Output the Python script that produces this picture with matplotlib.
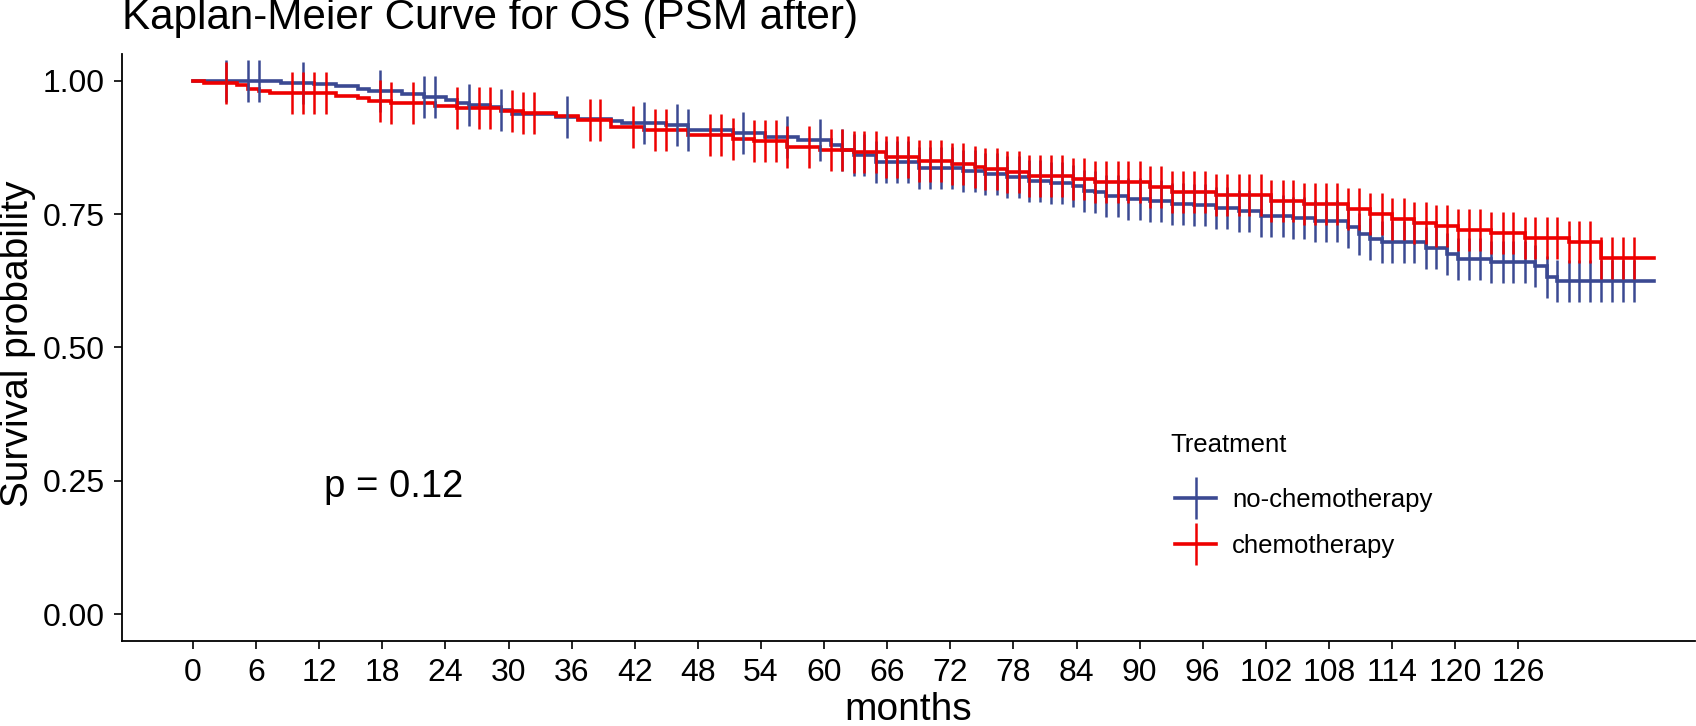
import numpy as np
import matplotlib
matplotlib.use('Agg')
import matplotlib.pyplot as plt
from matplotlib.lines import Line2D

plt.rcParams['font.family'] = ['Liberation Sans', 'DejaVu Sans']

# ---------------- data ----------------
group_labels = ['no-chemotherapy', 'chemotherapy']
group_colors = ['#3B4992', '#EE0000']

nochemo_times = [0, 8.4, 11.5, 13.6, 15.7, 16.7, 19.9, 22.0, 24.1, 25.1, 26.2, 28.2, 29.3,
                 30.3, 34.5, 36.6, 39.7, 40.8, 45.0, 47.1, 51.3, 54.4, 57.5, 60.7, 61.7,
                 62.8, 64.9, 69.0, 73.2, 75.3, 77.4, 79.5, 81.6, 83.7, 84.7, 85.8, 86.8,
                 88.9, 91.0, 93.1, 95.2, 97.3, 99.4, 101.5, 104.6, 106.7, 109.8, 110.9,
                 111.9, 113.0, 117.2, 119.2, 120.3, 123.4, 127.6, 128.7, 129.7]
nochemo_surv = [1.0, 0.9955, 0.9937, 0.9894, 0.9844, 0.9813, 0.975, 0.970, 0.964, 0.958,
                0.9545, 0.950, 0.9457, 0.938, 0.931, 0.928, 0.924, 0.920, 0.916, 0.9076,
                0.901, 0.895, 0.888, 0.880, 0.870, 0.860, 0.848, 0.8365, 0.830, 0.825,
                0.819, 0.8127, 0.8077, 0.8034, 0.794, 0.791, 0.7846, 0.778, 0.774, 0.769,
                0.766, 0.7615, 0.755, 0.747, 0.743, 0.7365, 0.725, 0.713, 0.7035, 0.697,
                0.686, 0.6755, 0.666, 0.660, 0.6517, 0.632, 0.624]

late_censor = [61.7, 62.8, 63.8, 64.9, 65.9, 66.9, 68.0, 69.0, 70.1, 71.1, 72.2, 73.2,
               74.3, 75.3, 76.4, 77.4, 78.5, 79.5, 80.5, 81.6, 82.6, 83.7, 84.7, 85.8,
               86.8, 87.9, 88.9, 90.0, 91.0, 92.0, 93.1, 94.1, 95.2, 96.2, 97.3, 98.3,
               99.4, 100.4, 101.5, 102.5, 103.6, 104.6, 105.6, 106.7, 107.7, 108.8, 109.8,
               110.9, 111.9, 113.0, 114.0, 115.1, 116.1, 117.2, 118.2, 119.2, 120.3, 121.3,
               122.4, 123.4, 124.5, 125.5, 126.6, 127.6, 128.7, 129.7, 130.8, 131.8, 132.8,
               133.9, 134.9, 136.0, 137.0]

nochemo_censor = [3.1, 5.2, 6.3, 10.5, 17.8, 22.0, 23.0, 26.2, 29.3, 35.6, 42.9, 46.0,
                  47.1, 52.3, 56.5, 59.6] + late_censor

chemo_times = [0, 1.0, 4.2, 5.2, 6.3, 7.3, 13.6, 15.7, 16.7, 18.8, 23.0, 25.1, 29.3, 31.4,
               34.5, 36.6, 39.7, 42.9, 47.1, 51.3, 53.3, 56.5, 59.6, 62.8, 65.9, 69.0,
               72.2, 74.3, 75.3, 77.4, 79.5, 83.7, 85.8, 91.0, 93.1, 97.3, 102.5, 105.6,
               109.8, 111.9, 114.0, 116.1, 118.2, 120.3, 123.4, 126.6, 130.8, 133.9]
chemo_surv = [1.0, 0.9963, 0.992, 0.9844, 0.9813, 0.977, 0.9707, 0.967, 0.9625, 0.958,
              0.953, 0.949, 0.944, 0.9395, 0.9345, 0.9264, 0.9126, 0.9076, 0.8989, 0.8907,
              0.8864, 0.875, 0.870, 0.8657, 0.8577, 0.850, 0.844, 0.838, 0.8346, 0.828,
              0.822, 0.816, 0.810, 0.800, 0.792, 0.785, 0.775, 0.769, 0.760, 0.750, 0.741,
              0.734, 0.728, 0.720, 0.714, 0.705, 0.697, 0.668]
chemo_censor = [3.1, 9.4, 10.5, 11.5, 12.6, 17.8, 18.8, 20.9, 25.1, 27.2, 28.2, 30.3, 31.4,
                32.4, 37.7, 38.7, 41.8, 43.9, 45.0, 49.2, 50.2, 51.3, 53.3, 54.4, 55.4,
                56.5, 58.6, 60.7] + late_censor

last_followup = 138.9

x_breaks = [0, 6, 12, 18, 24, 30, 36, 42, 48, 54, 60, 66, 72, 78, 84, 90, 96, 102, 108,
            114, 120, 126]
y_breaks = [0.0, 0.25, 0.50, 0.75, 1.00]
y_break_labels = ['0.00', '0.25', '0.50', '0.75', '1.00']
p_text = 'p = 0.12'

# ---------------- figure ----------------
W, H = 1696, 726
fig = plt.figure(figsize=(W / 100, H / 100), dpi=100)
ax_l, ax_r, ax_t, ax_b = 122, 1695, 54, 640.7
ax = fig.add_axes([ax_l / W, 1 - ax_b / H, (ax_r - ax_l) / W, (ax_b - ax_t) / H])

series = [(nochemo_times, nochemo_surv, nochemo_censor),
          (chemo_times, chemo_surv, chemo_censor)]

lw = 2.6
msize = 30
mew = 1.8
for (t, s, c), col in zip(series, group_colors):
    tt = np.array(list(t) + [last_followup], dtype=float)
    ss = np.array(list(s) + [s[-1]], dtype=float)
    ax.step(tt, ss, where='post', color=col, lw=lw, solid_joinstyle='miter', zorder=2)

for (t, s, c), col in zip(series, group_colors):
    t_arr = np.asarray(t, dtype=float)
    s_arr = np.asarray(s, dtype=float)
    c_arr = np.asarray(c, dtype=float)
    idx = np.searchsorted(t_arr, c_arr, side='right') - 1
    ax.plot(c_arr, s_arr[idx], ls='none', marker='|', markersize=msize,
            markeredgewidth=mew, color=col, zorder=3)

ax.set_xlim(-6.75, 142.8)
ax.set_ylim(-0.05, 1.05)
ax.set_xticks(x_breaks)
ax.set_xticklabels([str(v) for v in x_breaks])
ax.set_yticks(y_breaks)
ax.set_yticklabels(y_break_labels)

for side in ['top', 'right']:
    ax.spines[side].set_visible(False)
for side in ['left', 'bottom']:
    ax.spines[side].set_linewidth(1.3)
    ax.spines[side].set_color('black')
ax.tick_params(axis='both', length=5.5, width=1.2, color='black', labelcolor='black')
ax.tick_params(axis='x', labelsize=23, pad=7)
ax.tick_params(axis='y', labelsize=23, pad=7)

# p-value
ax.text(12.5, 0.219, p_text, fontsize=27.5, ha='left', va='baseline', color='black')

# titles
fig.text(ax_l / W, 1 - 29 / H, 'Kaplan-Meier Curve for OS (PSM after)', fontsize=30.3,
         ha='left', va='baseline', color='black')
fig.text(18 / W, 1 - 344 / H, 'Survival probability', fontsize=28, rotation=90,
         ha='center', va='center', color='black')
fig.text((ax_l + ax_r) / 2 / W, 1 - 720 / H, 'months', fontsize=28,
         ha='center', va='baseline', color='black')

# legend
fig.text(1170 / W, 1 - 452 / H, 'Treatment', fontsize=18.5, ha='left', va='baseline',
         color='black')
handles = [Line2D([0], [0], color=col, lw=lw, marker='|', markersize=msize,
                  markeredgewidth=mew) for col in group_colors]
leg = fig.legend(handles, group_labels, loc='upper left',
                 bbox_to_anchor=(1175 / W, 1 - 488 / H), frameon=False,
                 fontsize=18.5, handlelength=1.6, handletextpad=0.62,
                 labelspacing=0.85, borderpad=0, borderaxespad=0)

fig.savefig('out.png', dpi=100)
